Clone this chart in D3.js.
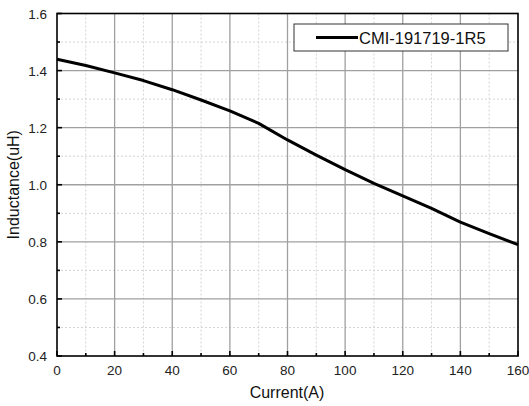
<!DOCTYPE html>
<html>
<head>
<meta charset="utf-8">
<script src="https://cdn.jsdelivr.net/npm/d3@7"></script>
<style>
    body { margin: 0; background: #fff; }
    svg { font-family: "Liberation Sans", Arial, sans-serif; }
    .major { stroke: #a0a0a0; stroke-width: 1.3; }
    .minor { stroke: #d4d4d4; stroke-width: 1; stroke-dasharray: 2,2; }
    .frame { fill: none; stroke: #000; stroke-width: 1.6; }
    .tick-label { font-size: 13.5px; fill: #222; }
    .title { font-size: 16px; fill: #111; }
</style>
</head>
<body>
<svg id="chart" width="529" height="406"></svg>
<script>
    const current = [0, 10, 20, 30, 40, 50, 60, 70, 80, 90, 100, 110, 120, 130, 140, 150, 160];
    const inductance = [1.44, 1.418, 1.392, 1.365, 1.333, 1.297, 1.259, 1.215, 1.157, 1.104, 1.053, 1.005, 0.961, 0.917, 0.869, 0.829, 0.79];
    const seriesName = 'CMI-191719-1R5';
    const xTicks = [0, 20, 40, 60, 80, 100, 120, 140, 160];
    const yTicks = [0.4, 0.6, 0.8, 1.0, 1.2, 1.4, 1.6];

    const margin = {top: 13.5, right: 11, bottom: 50, left: 57};
    const width = 529 - margin.left - margin.right;
    const height = 406 - margin.top - margin.bottom;

    const svg = d3.select('#chart');
    const chart = svg.append('g')
        .attr('transform', 'translate(' + margin.left + ',' + margin.top + ')');

    const x = d3.scaleLinear().domain([0, 160]).range([0, width]);
    const y = d3.scaleLinear().domain([0.4, 1.6]).range([height, 0]);

    // minor grid halfway between the major ticks
    const xMinor = d3.range(10, 160, 20);
    const yMinor = d3.range(0.5, 1.6, 0.2);

    chart.selectAll('.minor.vx').data(xMinor).enter().append('line')
        .attr('class', 'minor vx')
        .attr('x1', d => x(d)).attr('x2', d => x(d))
        .attr('y1', 0).attr('y2', height);
    chart.selectAll('.minor.hy').data(yMinor).enter().append('line')
        .attr('class', 'minor hy')
        .attr('y1', d => y(d)).attr('y2', d => y(d))
        .attr('x1', 0).attr('x2', width);

    chart.selectAll('.major.vx').data(xTicks.slice(1, -1)).enter().append('line')
        .attr('class', 'major vx')
        .attr('x1', d => x(d)).attr('x2', d => x(d))
        .attr('y1', 0).attr('y2', height);
    chart.selectAll('.major.hy').data(yTicks.slice(1, -1)).enter().append('line')
        .attr('class', 'major hy')
        .attr('y1', d => y(d)).attr('y2', d => y(d))
        .attr('x1', 0).attr('x2', width);

    // inward ticks on the bottom and left edges
    const tickG = chart.append('g').attr('stroke', '#000').attr('stroke-width', 1.6);
    xTicks.forEach(d => tickG.append('line')
        .attr('x1', x(d)).attr('x2', x(d)).attr('y1', height).attr('y2', height - 5));
    xMinor.forEach(d => tickG.append('line')
        .attr('x1', x(d)).attr('x2', x(d)).attr('y1', height).attr('y2', height - 3));
    yTicks.forEach(d => tickG.append('line')
        .attr('y1', y(d)).attr('y2', y(d)).attr('x1', 0).attr('x2', 5));
    yMinor.forEach(d => tickG.append('line')
        .attr('y1', y(d)).attr('y2', y(d)).attr('x1', 0).attr('x2', 3));

    chart.append('rect').attr('class', 'frame')
        .attr('x', 0).attr('y', 0).attr('width', width).attr('height', height);

    chart.selectAll('.xlab').data(xTicks).enter().append('text')
        .attr('class', 'tick-label')
        .attr('x', d => x(d)).attr('y', height + 19)
        .attr('text-anchor', 'middle')
        .text(d => d);
    chart.selectAll('.ylab').data(yTicks).enter().append('text')
        .attr('class', 'tick-label')
        .attr('x', -10).attr('y', d => y(d) + 5)
        .attr('text-anchor', 'end')
        .text(d => d.toFixed(1));

    const line = d3.line()
        .x((d, i) => x(current[i]))
        .y(d => y(d));

    chart.append('path').datum(inductance)
        .attr('fill', 'none').attr('stroke', '#000')
        .attr('stroke-width', 3).attr('stroke-linejoin', 'round')
        .attr('d', line);

    // legend
    const legend = chart.append('g').attr('transform', 'translate(237,10.5)');
    legend.append('rect')
        .attr('width', 214).attr('height', 27)
        .attr('fill', '#fff').attr('stroke', '#333').attr('stroke-width', 1);
    legend.append('line')
        .attr('x1', 22).attr('x2', 64).attr('y1', 13.5).attr('y2', 13.5)
        .attr('stroke', '#000').attr('stroke-width', 3);
    legend.append('text')
        .attr('x', 65).attr('y', 19.5)
        .attr('font-size', '16.5px').attr('fill', '#111')
        .text(seriesName);

    svg.append('text').attr('class', 'title')
        .attr('x', 287).attr('y', 398)
        .attr('text-anchor', 'middle')
        .text('Current(A)');
    svg.append('text').attr('class', 'title')
        .attr('transform', 'translate(19,' + (margin.top + height / 2) + ') rotate(-90)')
        .attr('text-anchor', 'middle')
        .text('Inductance(uH)');
</script>
</body>
</html>
